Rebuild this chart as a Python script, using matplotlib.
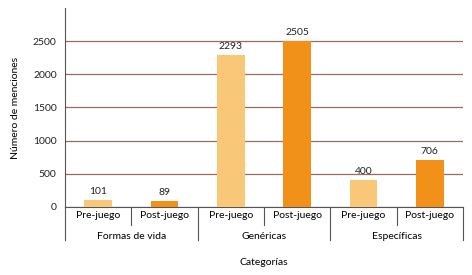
import matplotlib.pyplot as plt
from matplotlib.transforms import blended_transform_factory

plt.rcParams['font.family'] = ['Lato', 'DejaVu Sans']

grupos = ["Formas de vida", "Genéricas", "Específicas"]
momentos = ["Pre-juego", "Post-juego"]
valores = [101, 89, 2293, 2505, 400, 706]
colores = ["#F9C778", "#F29119"]

fig = plt.figure(figsize=(4.72, 2.75), dpi=100)
ax = fig.add_axes([0.1377, 0.2473, 0.8433, 0.7237])

x = list(range(len(valores)))
cols = [colores[i % 2] for i in x]
bars = ax.bar(x, valores, width=0.42, color=cols, zorder=3)
for b, v in zip(bars, valores):
    ax.text(b.get_x() + b.get_width() / 2, v + 60, str(v), ha="center", va="bottom",
            fontsize=7.5, color="#222222")

ax.set_xlim(-0.5, len(valores) - 0.5)
ax.set_ylim(0, 3000)
ax.set_yticks([0, 500, 1000, 1500, 2000, 2500])
ax.tick_params(axis="y", length=0, labelsize=7.5, pad=6, colors="#222222")
ax.set_xticks([])
ax.yaxis.grid(True, color="#9a6a5c", linewidth=0.9, zorder=0)
for s in ["top", "right"]:
    ax.spines[s].set_visible(False)
ax.spines["left"].set_color("#555555")
ax.spines["bottom"].set_color("#555555")

tr = blended_transform_factory(ax.transData, ax.transAxes)
for i in x:
    ax.text(i, -0.045, momentos[i % 2], transform=tr, ha="center", va="center", fontsize=7.5)
for xs in [0.5, 2.5, 4.5]:
    ax.plot([xs, xs], [0, -0.09], transform=tr, color="#555555", lw=0.8, clip_on=False)
for xs in [-0.5, 1.5, 3.5, 5.5]:
    ax.plot([xs, xs], [0, -0.166], transform=tr, color="#555555", lw=0.8, clip_on=False)
for g, nombre in enumerate(grupos):
    ax.text(2 * g + 0.5, -0.15, nombre, transform=tr, ha="center", va="center", fontsize=7.5)

ax.text(0.5, -0.28, "Categorías", transform=ax.transAxes, ha="center", va="center", fontsize=7.5)
ax.set_ylabel("Número de menciones", fontsize=7.5, labelpad=9)

fig.savefig("out.png", dpi=100)
